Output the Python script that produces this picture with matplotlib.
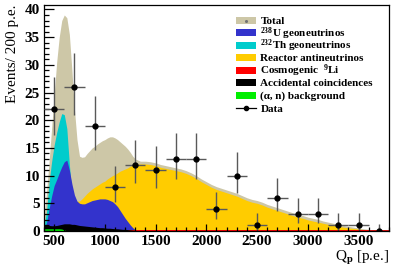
import numpy as np
import matplotlib
matplotlib.use("Agg")
import matplotlib.pyplot as plt
from matplotlib.patches import Rectangle
from matplotlib.lines import Line2D
from matplotlib.ticker import MultipleLocator

plt.rcParams['font.family'] = ['Liberation Serif', 'DejaVu Serif']
plt.rcParams['font.weight'] = 'bold'
plt.rcParams['mathtext.fontset'] = 'custom'
plt.rcParams['mathtext.rm'] = 'Liberation Serif:bold'
plt.rcParams['mathtext.it'] = 'Liberation Serif:bold:italic'
plt.rcParams['mathtext.bf'] = 'Liberation Serif:bold'
plt.rcParams['mathtext.default'] = 'bf'

# prompt light yield grid [p.e.]
q_fine = np.arange(400, 1301, 25)
q_coarse = np.arange(1350, 3801, 50)
q_all = np.concatenate([q_fine, q_coarse])

# best-fit spectra (events / 200 p.e.)
total = [2.0, 7.0, 12.5, 18.5, 24.5, 30.5, 35.0, 38.0, 39.0, 38.5, 35.5, 29.0,
         22.0, 16.5, 13.5, 13.3, 13.4, 14.0, 14.5, 15.0, 15.3, 15.7, 16.0, 16.3,
         16.5, 16.8, 17.0, 17.0, 16.8, 16.5, 16.1, 15.7, 15.3, 14.8, 14.2, 13.5, 13.0,
         12.6, 12.6, 12.5, 12.3, 12.0, 11.8, 11.6, 11.4, 11.2, 10.9, 10.5, 10.0,
         9.4, 8.9, 8.4, 8.0, 7.7, 7.4, 7.1, 6.8, 6.4, 6.0, 5.7, 5.5, 5.2, 4.8,
         4.5, 4.2, 3.9, 3.6, 3.3, 3.0, 2.8, 2.5, 2.3, 2.1, 1.8, 1.6, 1.4, 1.2,
         1.0, 0.85, 0.7, 0.55, 0.4, 0.3, 0.15, 0.05, 0.0, 0.0]
reactor = [0.8, 1.5, 2.2, 2.8, 3.2, 3.6, 4.0, 4.3, 4.6, 4.9, 5.1, 5.3,
           5.4, 5.4, 5.4, 5.8, 6.3, 6.8, 7.2, 7.6, 7.9, 8.2, 8.5, 8.8,
           9.0, 9.4, 9.7, 10.0, 10.2, 10.5, 10.8, 11.0, 11.2, 11.4, 11.7, 11.9, 12.1,
           12.1, 12.1, 12.0, 11.8, 11.5, 11.3, 11.1, 10.9, 10.7, 10.4, 10.0, 9.5,
           8.9, 8.4, 7.9, 7.5, 7.2, 6.9, 6.6, 6.3, 5.9, 5.5, 5.2, 5.0, 4.7, 4.3,
           4.0, 3.7, 3.4, 3.1, 2.8, 2.5, 2.3, 2.0, 1.8, 1.6, 1.4, 1.2, 1.0, 0.85,
           0.7, 0.55, 0.45, 0.35, 0.25, 0.15, 0.08, 0.02, 0.0, 0.0]
u238 = [0.3, 1.5, 4.0, 6.3, 8.2, 9.3, 10.5, 11.6, 12.5, 12.8, 11.0, 8.5,
        6.5, 5.4, 5.0, 4.9, 4.9, 5.1, 5.3, 5.5, 5.6, 5.7, 5.8, 5.8,
        5.8, 5.7, 5.5, 5.3, 4.9, 4.4, 3.7, 3.0, 2.3, 1.7, 1.1, 0.6, 0.2]
th232 = [0.8, 3.5, 8.8, 12.5, 15.5, 17.8, 19.7, 21.2, 21.0, 18.5, 12.0, 6.5,
         3.5, 1.8, 1.0, 0.5, 0.3, 0.2, 0.1, 0.0, 0.0, 0.0, 0.0, 0.0,
         0.0, 0.0, 0.0, 0.0, 0.0, 0.0, 0.0, 0.0, 0.0, 0.0, 0.0, 0.0, 0.0]
accidental = [1.0, 1.0, 1.0, 0.95, 0.95, 1.0, 1.1, 1.2, 1.3, 1.3, 1.3, 1.2,
              1.2, 1.1, 1.0, 0.95, 0.9, 0.85, 0.8, 0.75, 0.7, 0.65, 0.6, 0.6,
              0.55, 0.5, 0.5, 0.45, 0.4, 0.4, 0.35, 0.3, 0.3, 0.25, 0.2, 0.15, 0.1]
alpha_n = [0.4, 0.4, 0.4, 0.4, 0.4, 0.4, 0.4, 0.35, 0.2, 0.0, 0.0, 0.0,
           0.0, 0.0, 0.0, 0.0, 0.0, 0.0, 0.0, 0.0, 0.0, 0.0, 0.0, 0.0,
           0.0, 0.0, 0.0, 0.0, 0.0, 0.0, 0.0, 0.0, 0.0, 0.0, 0.0, 0.0, 0.0]
li9_level = 0.25

# data
data_q = [500, 700, 900, 1100, 1300, 1500, 1700, 1900, 2100, 2300, 2500,
          2700, 2900, 3100, 3300, 3500, 3700]
data_n = [22, 26, 19, 8, 12, 11, 13, 13, 4, 10, 1, 6, 3, 3, 1, 1, 0]
err_lo = [4.7, 5.1, 4.4, 2.8, 3.4, 3.3, 3.6, 3.6, 1.9, 3.1, 0.8, 2.4, 1.6, 1.6, 0.8, 0.8, 0.0]
err_hi = [5.8, 6.1, 5.4, 3.8, 4.5, 4.4, 4.7, 4.7, 3.1, 4.3, 2.3, 3.6, 2.9, 2.9, 2.3, 2.3, 1.3]
bin_half = 100

c_total = '#cdc7a7'
c_u = '#3333cc'
c_th = '#00cccc'
c_reac = '#ffcc00'
c_li = '#ff0000'
c_acc = '#000000'
c_an = '#00ee00'

W, H = 407, 269
fig = plt.figure(figsize=(W / 100, H / 100), dpi=100)
ax = fig.add_axes([44 / W, 1 - 231 / H, (389 - 44) / W, (231 - 5) / H])

ax.fill_between(q_all, 0, total, color=c_total, lw=0)
ax.fill_between(q_all, 0, reactor, color=c_reac, lw=0)
ax.fill_between(q_fine, 0, th232, color=c_th, lw=0)
ax.fill_between(q_fine, 0, u238, color=c_u, lw=0)
ax.fill_between(q_all, 0, li9_level, color=c_li, lw=0)
ax.fill_between(q_fine, 0, accidental, color=c_acc, lw=0)
ax.fill_between(q_fine, 0, alpha_n, color=c_an, lw=0)

ax.errorbar(data_q, data_n, yerr=[err_lo, err_hi], xerr=bin_half, fmt='o',
            color='black', ms=3.5, ecolor='0.35', elinewidth=1.0, capsize=0, zorder=5)

ax.set_xlim(400, 3800)
ax.set_ylim(0, 40.8)
ax.xaxis.set_major_locator(MultipleLocator(500))
ax.xaxis.set_minor_locator(MultipleLocator(100))
ax.yaxis.set_major_locator(MultipleLocator(5))
ax.yaxis.set_minor_locator(MultipleLocator(1))
ax.tick_params(axis='both', which='both', direction='in', top=False, right=False,
               labelsize=11, width=0.9)
ax.tick_params(axis='y', which='major', length=7, pad=3)
ax.tick_params(axis='y', which='minor', length=3.5)
ax.tick_params(axis='x', which='major', length=5, pad=3)
ax.tick_params(axis='x', which='minor', length=3)
for s in ax.spines.values():
    s.set_linewidth(0.9)

ax.set_ylabel('Events/ 200 p.e.', fontsize=11, loc='top', labelpad=4)
ax.set_xlabel(r'Q$_{\rm p}$ [p.e.]', fontsize=11, loc='right', labelpad=0.5)


# legend drawn by hand (pixel layout of the reference)
def fx(px):
    return px / W


def fy(py):
    return 1 - py / H


entries = [
    ('Total', c_total, 20.7),
    (r'$^{238}$U geoneutrinos', c_u, 33.0),
    (r'$^{232}$Th geoneutrinos', c_th, 45.3),
    ('Reactor antineutrinos', c_reac, 57.6),
    (r'Cosmogenic  $^{9}$Li', c_li, 70.0),
    ('Accidental coincidences', c_acc, 82.7),
    ('(α, n) background', c_an, 95.5),
]
for label, col, yc in entries:
    fig.add_artist(Rectangle((fx(236), fy(yc + 3.5)), fx(20), 7 / H, color=col,
                             transform=fig.transFigure, lw=0))
    fig.text(fx(260.5), fy(yc + 3.6), label, fontsize=8.0, fontweight='bold',
             va='baseline', ha='left')
fig.add_artist(Line2D([fx(246)], [fy(20.7)], marker='o', ms=1.2,
                      color='0.45', lw=0, transform=fig.transFigure))
fig.add_artist(Line2D([fx(236), fx(256)], [fy(108.3), fy(108.3)], color='black', lw=0.9,
                      transform=fig.transFigure))
fig.add_artist(Line2D([fx(246)], [fy(108.3)], marker='o', ms=3, color='black',
                      transform=fig.transFigure))
fig.text(fx(260.5), fy(108.3 + 3.6), 'Data', fontsize=8.0, fontweight='bold',
         va='baseline', ha='left')

fig.savefig('out.png', dpi=100)
